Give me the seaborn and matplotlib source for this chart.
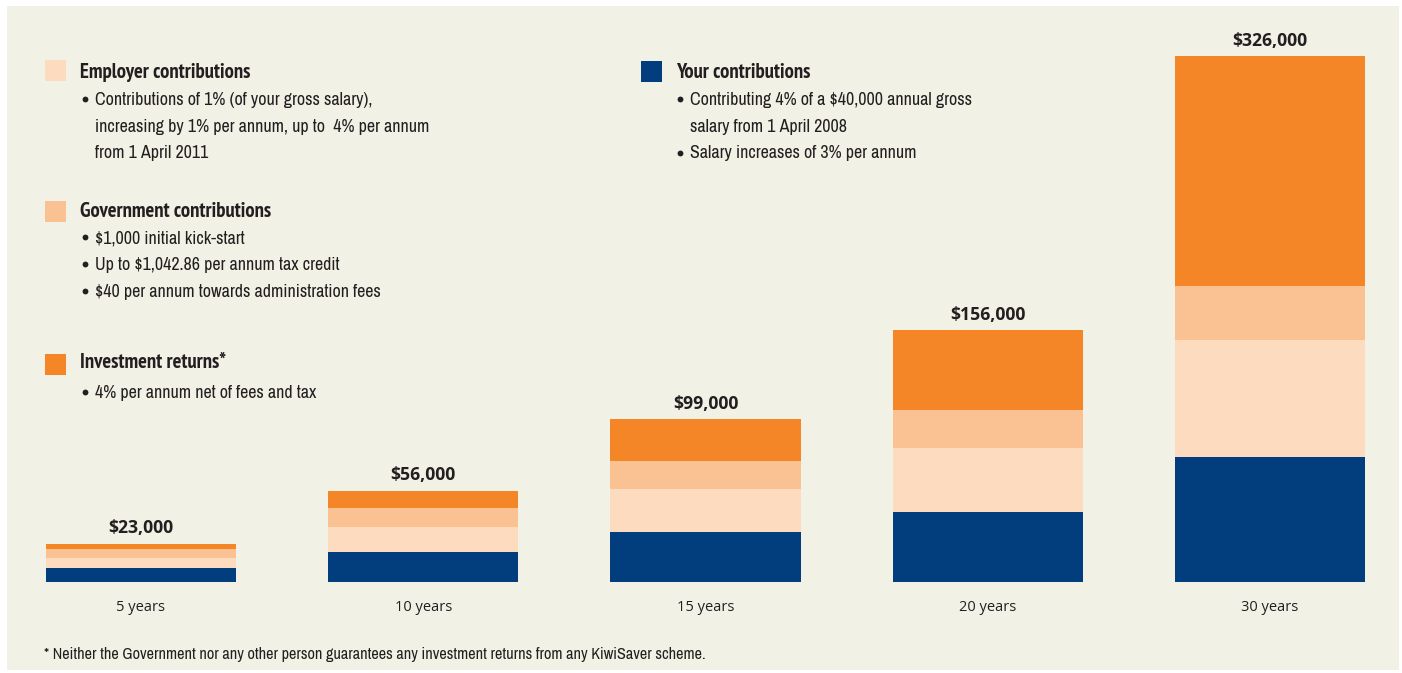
import matplotlib
matplotlib.use("Agg")
import matplotlib.pyplot as plt
import seaborn as sns
import numpy as np
import pandas as pd
from matplotlib.patches import Rectangle
from matplotlib.lines import Line2D
from matplotlib import font_manager as fm

# ---- data ----
periods = ["5 years", "10 years", "15 years", "20 years", "30 years"]
your_contrib = [8700, 18600, 30500, 42900, 77100]
employer_contrib = [5800, 15500, 26700, 39800, 72700]
government_contrib = [6000, 11800, 17400, 23600, 33600]
investment_returns = [3100, 10600, 26100, 49700, 142900]
total_labels = ["$23,000", "$56,000", "$99,000", "$156,000", "$326,000"]

C_YOUR = "#023e7d"
C_EMP = "#fcdbbe"
C_GOV = "#fac293"
C_INV = "#f58628"
BG = "#f2f1e6"
TXT = "#231f20"

sns.set_style("white")

# ---- font files ----
def pick(cond, bold):
    best, best_rank = None, 99
    for f in fm.fontManager.ttflist:
        fn = f.fname.lower().replace("-", "").replace("_", "")
        if "italic" in fn or "oblique" in fn or "light" in fn or "medium" in fn or "black" in fn \
                or "semibold" in fn or "extrabold" in fn or "thin" in fn:
            continue
        isbold = "bold" in fn
        if isbold != bold:
            continue
        if cond:
            if "narrow" in fn:
                r = 0
            elif "extracondensed" in fn:
                r = 1
            elif "semicondensed" in fn:
                r = 3
            elif "condensed" in fn:
                r = 2
            else:
                continue
        else:
            if "condensed" in fn or "narrow" in fn:
                continue
            if f.name != "Open Sans":
                continue
            r = 0
        if r < best_rank:
            best, best_rank = f.fname, r
    return best

cond_reg, cond_bold = pick(True, False), pick(True, True)
os_reg, os_bold = pick(False, False), pick(False, True)

def fp(kind, bold, size):
    if kind == "cond":
        path = cond_bold if bold else cond_reg
        fam = "Roboto"
    else:
        path = os_bold if bold else os_reg
        fam = "Open Sans"
    if path is not None:
        return fm.FontProperties(fname=path, size=size)
    return fm.FontProperties(family=fam, weight="bold" if bold else "normal", size=size)

W, H = 1402, 673
fig = plt.figure(figsize=(W / 100, H / 100), dpi=100, facecolor="white")
renderer = fig.canvas.get_renderer()

def fit_size(kind, bold, s, target_px):
    t = fig.text(0, 0, s, fontproperties=fp(kind, bold, 10))
    w = t.get_window_extent(renderer).width
    t.remove()
    return 10 * target_px / w

sz_title = fit_size("cond", True, "Employer contributions", 172)
sz_body = fit_size("cond", False, "Contributions of 1% (of your gross salary),", 277)
sz_foot = fit_size("cond", False, "* Neither the Government nor any other person guarantees any investment returns from any KiwiSaver scheme.", 662)
sz_val = fit_size("os", True, "$326,000", 76)
sz_tick = fit_size("os", False, "30 years", 57)

# background panel
fig.patches.append(Rectangle((7 / W, 1 - 670 / H), (1399 - 7) / W, (670 - 6) / H,
                             transform=fig.transFigure, facecolor=BG, edgecolor="none", zorder=-10))

base_px = 581.5
ax = fig.add_axes([0, (H - base_px) / H, 1, base_px / H])
ax.set_facecolor("none")

df = pd.DataFrame({
    "period": periods,
    "your": your_contrib,
    "emp": employer_contrib,
    "gov": government_contrib,
    "inv": investment_returns,
})
df["c1"] = df["your"]
df["c2"] = df["c1"] + df["emp"]
df["c3"] = df["c2"] + df["gov"]
df["c4"] = df["c3"] + df["inv"]

for col, c in [("c4", C_INV), ("c3", C_GOV), ("c2", C_EMP), ("c1", C_YOUR)]:
    sns.barplot(data=df, x="period", y=col, order=periods, color=c, saturation=1,
                width=0.674, linewidth=0, errorbar=None, ax=ax)

ax.set_xlim(-141 / 282.25, (W - 141) / 282.25)
ax.set_ylim(0, base_px * 621.5)
for s in ax.spines.values():
    s.set_visible(False)
ax.set_yticks([])
ax.set_ylabel("")
ax.set_xlabel("")
ax.set_xticks(range(len(periods)))
ax.set_xticklabels(periods, fontproperties=fp("os", False, sz_tick), color=TXT)
ax.tick_params(axis="x", length=0, pad=13.5)

for i, (lab, tot) in enumerate(zip(total_labels, df["c4"])):
    ax.annotate(lab, xy=(i, tot), xytext=(0, 11.5), textcoords="offset points",
                ha="center", va="center", fontproperties=fp("os", True, sz_val), color=TXT)

# ---- legend / notes ----
def fx(x):
    return x / W

def fy(y):
    return 1 - y / H

def square(x, y, c):
    fig.patches.append(Rectangle((fx(x), fy(y + 21)), 21 / W, 21 / H,
                                 transform=fig.transFigure, facecolor=c, edgecolor="none"))

def title(x, y, s):
    fig.text(fx(x), fy(y), s, fontproperties=fp("cond", True, sz_title),
             color=TXT, va="baseline", ha="left")

def line(x, y, s, bullet=True):
    if bullet:
        fig.add_artist(Line2D([fx(x - 10.5)], [fy(y - 5.7)], transform=fig.transFigure,
                              marker="o", markersize=4.2, markeredgewidth=0,
                              color=TXT, linestyle="none"))
    fig.text(fx(x), fy(y), s, fontproperties=fp("cond", False, sz_body), color=TXT,
             va="baseline", ha="left")

square(45, 60, C_EMP)
title(80, 78.3, "Employer contributions")
line(95.5, 105, "Contributions of 1% (of your gross salary),")
line(95.5, 131.7, "increasing by 1% per annum, up to  4% per annum", bullet=False)
line(95.5, 158.3, "from 1 April 2011", bullet=False)

square(45, 201.5, C_GOV)
title(80, 216.7, "Government contributions")
line(95.5, 243, "$1,000 initial kick-start")
line(95.5, 270, "Up to $1,042.86 per annum tax credit")
line(95.5, 296.7, "$40 per annum towards administration fees")

square(45, 354, C_INV)
title(80, 368.3, "Investment returns*")
line(95.5, 398, "4% per annum net of fees and tax")

square(641, 61, C_YOUR)
title(676, 78.3, "Your contributions")
line(690.5, 105, "Contributing 4% of a $40,000 annual gross")
line(690.5, 131.7, "salary from 1 April 2008", bullet=False)
line(690.5, 158.3, "Salary increases of 3% per annum")

fig.text(fx(44), fy(655), "* Neither the Government nor any other person guarantees any investment returns from any KiwiSaver scheme.",
         fontproperties=fp("cond", False, sz_foot), color=TXT, va="center", ha="left")

fig.savefig("out.png", dpi=100, facecolor="white")
